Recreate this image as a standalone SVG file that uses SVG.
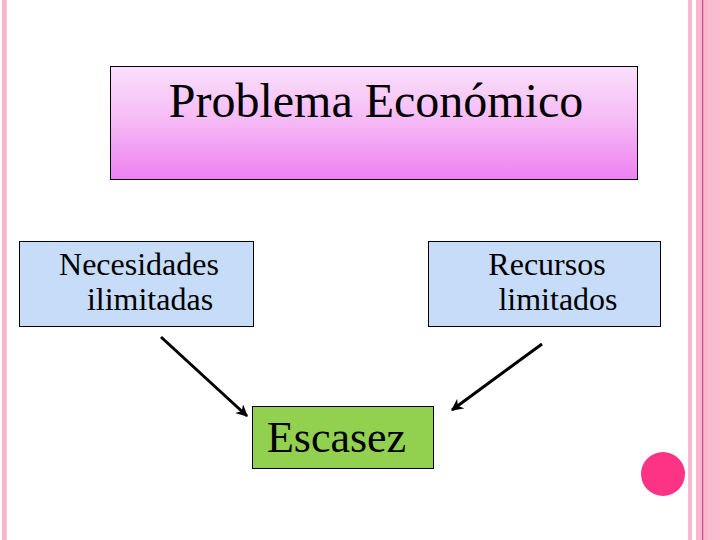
<svg xmlns="http://www.w3.org/2000/svg" width="720" height="540" viewBox="0 0 720 540">
<defs>
<linearGradient id="gTitle" x1="0" y1="0" x2="0" y2="1">
<stop offset="0" stop-color="#fae0fa"/>
<stop offset="0.5" stop-color="#f5b8f5"/>
<stop offset="1" stop-color="#ee80f2"/>
</linearGradient>
<marker id="ah" viewBox="0 0 10 10" refX="9" refY="5" markerWidth="4" markerHeight="4" orient="auto" markerUnits="strokeWidth">
<path d="M0,0 L10,5 L0,10 L3,5 Z" fill="#000"/>
</marker>
<style>
.t{font-family:"Liberation Serif","Times New Roman",serif;fill:#000}
.box{stroke:#000;stroke-width:1}
.blue{fill:#c6dcf8}
.conn{stroke:#000;stroke-width:3;fill:none;marker-end:url(#ah)}
</style>
</defs>
<rect width="720" height="540" fill="#fff"/>
<g id="frame">
<rect x="2" y="0" width="4.7" height="540" fill="#f9b3cb"/>
<rect x="688" y="0" width="4" height="540" fill="#f9b9cf"/>
<rect x="696" y="0" width="24" height="540" fill="#fab7ce"/>
<rect x="708" y="0" width="12" height="540" fill="#fbbcd2"/>
<rect x="702" y="0" width="1.2" height="540" fill="#c8487c"/>
<circle cx="663" cy="474" r="22" fill="#fd3485"/>
</g>
<g id="title">
<rect class="box" x="110.5" y="66.5" width="527" height="113" fill="url(#gTitle)"/>
<text class="t" x="376" y="117" font-size="48" text-anchor="middle">Problema Económico</text>
</g>
<g id="necesidades">
<rect class="box blue" x="19.5" y="241.5" width="234" height="85"/>
<text class="t" x="139" y="275" font-size="32" text-anchor="middle">Necesidades</text>
<text class="t" x="150" y="310" font-size="32" text-anchor="middle">ilimitadas</text>
</g>
<g id="recursos">
<rect class="box blue" x="428.5" y="241.5" width="232" height="85"/>
<text class="t" x="547" y="275" font-size="32" text-anchor="middle">Recursos</text>
<text class="t" x="558" y="310" font-size="32" text-anchor="middle">limitados</text>
</g>
<g id="escasez">
<rect class="box" x="252.5" y="406.5" width="181" height="62" fill="#92d050"/>
<text class="t" x="336.5" y="452" font-size="44" text-anchor="middle">Escasez</text>
</g>
<g id="connectors">
<line class="conn" x1="161" y1="337" x2="247" y2="416"/>
<line class="conn" x1="542" y1="344" x2="452" y2="410"/>
</g>
</svg>
